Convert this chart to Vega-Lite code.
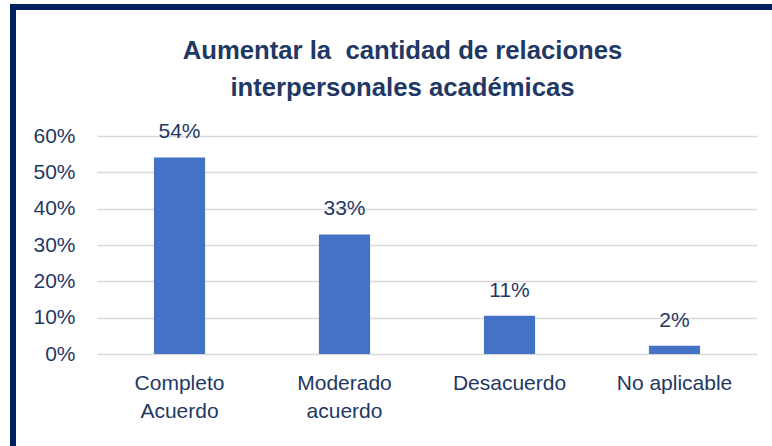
{
  "$schema": "https://vega.github.io/schema/vega-lite/v6.json",
  "background": "white",
  "padding": {"left": 10, "top": 4, "right": 0, "bottom": 0},
  "config": {
    "font": "Liberation Sans",
    "view": {"stroke": null}
  },
  "datasets": {
    "answers": [
      {"categoria": "Completo Acuerdo", "porcentaje": 0.541, "etiqueta": "54%"},
      {"categoria": "Moderado acuerdo", "porcentaje": 0.329, "etiqueta": "33%"},
      {"categoria": "Desacuerdo", "porcentaje": 0.105, "etiqueta": "11%"},
      {"categoria": "No aplicable", "porcentaje": 0.023, "etiqueta": "2%"}
    ],
    "frame": [{"parte": "borde"}]
  },
  "spacing": 0,
  "vconcat": [
    {
      "width": 762,
      "height": 6,
      "data": {"name": "frame"},
      "mark": {"type": "rect", "color": "#002060"},
      "encoding": {},
      "view": {"fill": "#002060", "stroke": null}
    },
    {
      "spacing": 0,
      "hconcat": [
        {
          "width": 6,
          "height": 436,
          "data": {"name": "frame"},
          "mark": {"type": "rect", "color": "#002060"},
          "encoding": {},
          "view": {"fill": "#002060", "stroke": null}
        },
        {
          "width": 660,
          "height": 344,
          "data": {"name": "answers"},
          "title": {
            "text": ["Aumentar la\u00a0 cantidad de relaciones", "interpersonales académicas"],
            "fontSize": 25.7,
            "fontWeight": "bold",
            "color": "#1f3864",
            "lineHeight": 37,
            "anchor": "middle",
            "frame": "bounds",
            "dx": 16,
            "offset": -92
          },
          "encoding": {
            "x": {
              "field": "categoria",
              "type": "nominal",
              "sort": null,
              "scale": {"paddingInner": 0.69, "paddingOuter": 0.345},
              "axis": {
                "title": null,
                "labelAngle": 0,
                "domain": false,
                "ticks": false,
                "labelPadding": 18,
                "labelFontSize": 21,
                "labelColor": "#1f3864",
                "labelLineHeight": 28,
                "labelExpr": "datum.label == 'No aplicable' ? datum.label : split(datum.label, ' ')"
              }
            },
            "y": {
              "field": "porcentaje",
              "type": "quantitative",
              "scale": {"domain": [0, 0.9468], "nice": false},
              "axis": {
                "title": null,
                "values": [0, 0.1, 0.2, 0.3, 0.4, 0.5, 0.6],
                "format": ".0%",
                "domain": false,
                "ticks": false,
                "labelPadding": 22,
                "labelFontSize": 21,
                "labelColor": "#1f3864",
                "gridColor": "#d9d9d9",
                "gridWidth": 1.5,
                "minExtent": 81,
                "maxExtent": 81
              }
            }
          },
          "layer": [
            {"mark": {"type": "bar", "color": "#4472c4"}},
            {
              "mark": {"type": "text", "fontSize": 21, "color": "#1f3864", "baseline": "alphabetic", "dy": -19},
              "encoding": {"text": {"field": "etiqueta"}}
            }
          ]
        }
      ]
    }
  ]
}
